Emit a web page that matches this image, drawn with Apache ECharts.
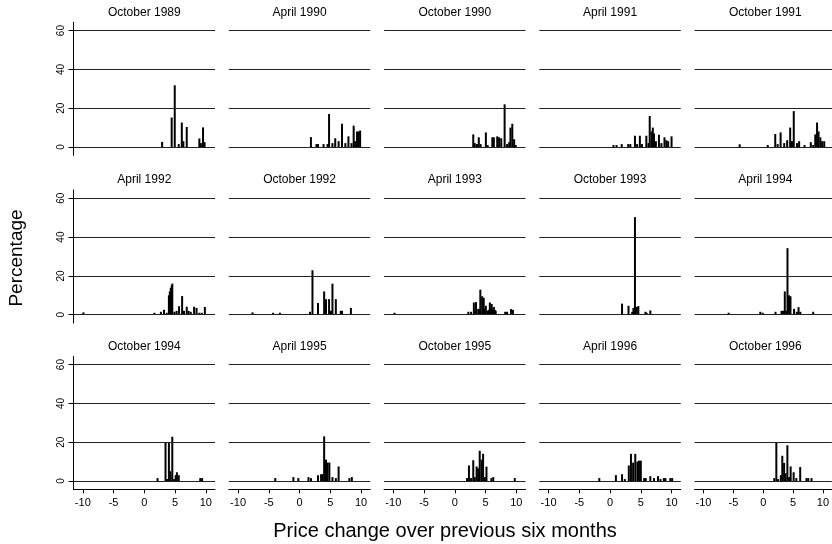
<!DOCTYPE html>
<html lang="en">
<head>
  <meta charset="UTF-8">
  <title>Price change histograms</title>
  <script src="https://cdn.jsdelivr.net/npm/echarts@6/dist/echarts.min.js"></script>
  <style>
    body { margin: 0; background: #fff; }
    #main { width: 832px; height: 544px; }
  </style>
</head>
<body>
  <div id="main"></div>
</body>
</html>
<script>
  // tick labels
  var xTicks = [-10, -5, 0, 5, 10]
  var yTicks = [0, 20, 40, 60]

  var panelTitles = ['October 1989', 'April 1990', 'October 1990', 'April 1991', 'October 1991',
    'April 1992', 'October 1992', 'April 1993', 'October 1993', 'April 1994',
    'October 1994', 'April 1995', 'October 1995', 'April 1996', 'October 1996']

  // [price change, percentage]
  var oct1989 = [[2.9, 2.6], [4.45, 15.2], [4.95, 31.8], [5.6, 1.5], [6.1, 12.6], [6.35, 3], [6.9, 10.3], [8.95, 4.4], [9.2, 2], [9.55, 10.1], [9.8, 2.5]]
  var apr1990 = [[1.85, 5.1], [2.75, 1.5], [3.0, 1.5], [3.9, 1.5], [4.55, 1.5], [4.8, 17], [5.35, 2], [5.8, 4.5], [6.35, 3], [6.9, 12], [7.45, 2], [7.95, 5.5], [8.45, 2], [8.8, 11], [9.05, 3], [9.35, 8], [9.6, 8], [9.85, 8.5]]
  var oct1990 = [[3.0, 6.5], [3.25, 2], [3.6, 1.5], [3.9, 5], [4.2, 1.5], [5.05, 7.5], [5.35, 1], [6.1, 5], [6.35, 5], [6.9, 5.5], [7.2, 5], [7.55, 4.5], [8.1, 22], [8.5, 1.5], [8.85, 2.5], [9.05, 10], [9.35, 12], [9.65, 4], [9.9, 1]]
  var apr1991 = [[0.55, 1], [1.05, 1], [1.9, 1.5], [2.95, 1.5], [3.3, 1.5], [4.05, 5.8], [4.4, 1.5], [4.85, 5.8], [5.2, 1.5], [5.9, 5.8], [6.25, 2], [6.45, 16], [6.75, 8], [6.95, 10], [7.15, 7], [7.45, 3], [7.95, 6.3], [8.35, 2], [8.85, 5], [9.15, 3.5], [9.45, 3], [10.0, 5.5]]
  var oct1991 = [[-3.95, 1.4], [0.75, 1], [2.0, 6.7], [2.4, 1.5], [2.9, 7.5], [3.5, 2], [4.0, 3.5], [4.5, 10], [4.8, 3], [5.1, 18.5], [5.65, 2], [6.0, 3], [6.9, 1], [7.95, 2.5], [8.35, 1], [8.7, 6.5], [9.0, 12.6], [9.25, 8], [9.55, 5], [9.85, 3], [10.2, 3]]
  var apr1992 = [[-9.9, 1.2], [1.65, 1], [2.7, 1.5], [3.2, 2.5], [3.65, 1], [4.0, 10], [4.15, 12], [4.3, 13.8], [4.45, 15], [4.55, 16], [4.9, 1.5], [5.25, 2], [5.65, 4.4], [6.15, 9.6], [6.45, 2], [6.9, 4.1], [7.2, 2], [7.55, 1.5], [8.1, 4.1], [8.5, 3.5], [8.95, 1], [9.35, 1], [9.85, 4]]
  var oct1992 = [[-7.65, 1.2], [-4.3, 1], [-3.2, 1], [1.7, 1.5], [2.1, 22.9], [3.0, 6], [4.0, 12], [4.3, 8], [4.8, 8], [5.1, 2], [5.35, 16], [5.9, 8], [6.7, 2], [6.9, 2], [8.35, 3.5]]
  var apr1993 = [[-9.8, 1], [2.2, 1.5], [2.65, 1.5], [3.1, 6.3], [3.3, 2], [3.45, 6.5], [3.8, 3], [3.95, 3], [4.15, 12.9], [4.45, 9.5], [4.7, 8.7], [4.85, 3], [5.05, 4.6], [5.35, 2], [5.5, 2.5], [5.7, 6.3], [5.85, 3], [6.0, 5.5], [6.2, 3], [6.35, 4], [6.5, 2.5], [6.65, 2], [8.2, 1.5], [8.5, 1.5], [9.15, 2.9], [9.45, 2.5]]
  var oct1993 = [[1.95, 5.7], [3.0, 4.6], [3.6, 1.5], [3.8, 3.5], [4.05, 50.3], [4.35, 4], [4.6, 4.5], [5.75, 1.5], [5.95, 1], [6.55, 2.2]]
  var apr1994 = [[-5.8, 1], [-0.5, 1.5], [-0.1, 1], [2.05, 1.5], [3.05, 2], [3.3, 2], [3.6, 12], [3.85, 2], [4.05, 34.3], [4.3, 10], [4.55, 9.5], [5.15, 3], [5.6, 1.5], [5.9, 3.9], [6.2, 1.5], [8.35, 1.5]]
  var oct1994 = [[2.15, 1.5], [3.45, 20], [3.7, 1], [4.0, 20], [4.25, 5], [4.55, 22.8], [4.8, 1], [5.1, 3], [5.3, 4.5], [5.6, 3], [9.1, 1.5], [9.4, 1.5]]
  var apr1995 = [[-3.95, 1.5], [-1.0, 2], [-0.2, 1.5], [1.45, 2], [1.85, 1.5], [3.0, 3], [3.5, 3.5], [3.75, 3.5], [4.0, 23], [4.3, 11], [4.55, 9.5], [4.85, 9.5], [5.35, 2], [5.9, 1.5], [6.35, 7.5], [8.1, 1.5], [8.5, 2]]
  var oct1995 = [[2.0, 1.5], [2.3, 8], [2.65, 1.5], [3.0, 10.7], [3.25, 2], [3.55, 7.5], [3.8, 6.5], [4.05, 15.6], [4.35, 11], [4.6, 14], [4.9, 2], [5.15, 7.4], [5.95, 1.5], [6.25, 2], [9.75, 1.5]]
  var apr1996 = [[-1.75, 1.5], [0.95, 3], [1.95, 3.5], [2.4, 1], [3.05, 8], [3.4, 14], [3.75, 9.5], [4.1, 14], [4.45, 10], [4.7, 10.5], [5.0, 10.5], [5.55, 1.5], [5.8, 1.5], [6.55, 2.5], [7.15, 1.5], [7.8, 2.5], [8.2, 1], [8.75, 1.5], [9.0, 1.5], [9.8, 1.5], [10.1, 1.5]]
  var oct1996 = [[1.85, 1.5], [2.2, 20], [2.5, 1], [2.95, 3], [3.2, 13], [3.5, 9.3], [3.75, 4], [4.05, 18.4], [4.35, 2], [4.6, 7.5], [5.1, 4.5], [5.55, 1.5], [6.2, 7.2], [7.25, 1.5], [7.55, 1.5], [8.1, 1.5]]

  var panelData = [oct1989, apr1990, oct1990, apr1991, oct1991,
    apr1992, oct1992, apr1993, oct1993, apr1994,
    oct1994, apr1995, oct1995, apr1996, oct1996]

  // layout (pixels)
  var font = '"Liberation Sans", Arial, sans-serif'
  var X_MIN = -11.5, X_MAX = 11.5
  var Y_MIN = -4.3, Y_MAX = 64.3
  var xScale = 6.15    // px per unit of price change
  var yScale = 1.94    // px per percentage point
  var colZero = 144.3  // x pixel of 0 in the first column
  var colStep = 155.25
  var rowZero = [147, 314.7, 481]  // y pixel of 0 in each row

  var chart = echarts.init(document.getElementById('main'))

  var grids = [], xAxes = [], yAxes = [], series = [], graphics = []

  panelData.forEach(function (data, i) {
    var row = Math.floor(i / 5)
    var col = i % 5
    var zx = colZero + col * colStep
    var zy = rowZero[row]

    grids.push({
      left: zx + X_MIN * xScale,
      top: zy - Y_MAX * yScale,
      width: (X_MAX - X_MIN) * xScale,
      height: (Y_MAX - Y_MIN) * yScale
    })

    xAxes.push({
      gridIndex: i,
      type: 'value',
      min: X_MIN,
      max: X_MAX,
      show: row === 2,
      axisLine: { onZero: false, lineStyle: { color: '#000', width: 1 } },
      axisTick: { show: true, customValues: xTicks, length: 4, lineStyle: { color: '#000' } },
      axisLabel: { customValues: xTicks, color: '#000', fontSize: 11, fontFamily: font, margin: 8 },
      splitLine: { show: false }
    })

    yAxes.push({
      gridIndex: i,
      type: 'value',
      min: Y_MIN,
      max: Y_MAX,
      show: col === 0,
      axisLine: { show: true, onZero: false, lineStyle: { color: '#000', width: 1 } },
      axisTick: { show: true, customValues: yTicks, length: 5, lineStyle: { color: '#000' } },
      axisLabel: { customValues: yTicks, rotate: 90, color: '#000', fontSize: 10, fontFamily: font, margin: 7 },
      splitLine: { show: false }
    })

    series.push({
      type: 'bar',
      xAxisIndex: i,
      yAxisIndex: i,
      data: data,
      barWidth: 2,
      itemStyle: { color: '#000' },
      silent: true,
      markLine: {  // horizontal rules at the y ticks
        silent: true,
        symbol: ['none', 'none'],
        label: { show: false },
        lineStyle: { color: '#222', type: 'solid', width: 1 },
        data: yTicks.map(function (v) { return { yAxis: v } })
      }
    })

    // panel title
    graphics.push({
      type: 'text',
      x: zx,
      y: zy - 134.7,
      style: { text: panelTitles[i], fill: '#000', font: '12px ' + font, textAlign: 'center', textVerticalAlign: 'middle' }
    })
  })

  // axis names
  graphics.push({
    type: 'text',
    x: 17,
    y: 258,
    rotation: Math.PI / 2,
    style: { text: 'Percentage', fill: '#000', font: '19px ' + font, textAlign: 'center', textVerticalAlign: 'middle' }
  })
  graphics.push({
    type: 'text',
    x: 445,
    y: 531,
    style: { text: 'Price change over previous six months', fill: '#000', font: '20px ' + font, textAlign: 'center', textVerticalAlign: 'middle' }
  })

  chart.setOption({
    animation: false,
    backgroundColor: '#fff',
    grid: grids,
    xAxis: xAxes,
    yAxis: yAxes,
    series: series,
    graphic: graphics
  })
</script>
